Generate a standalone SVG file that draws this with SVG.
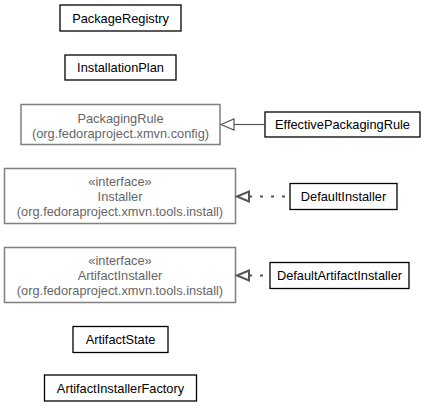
<svg xmlns="http://www.w3.org/2000/svg" width="428" height="407" viewBox="0 0 428 407">
<style>
text{font-family:"Liberation Sans",Arial,Helvetica,sans-serif;font-size:12.8px;text-anchor:middle}
.b rect{fill:#fff;stroke:#000;stroke-width:1.3}
.g rect{fill:#fff;stroke:#7f7f7f;stroke-width:1.5}
.b text{fill:#000}
.g text{fill:#666}
.edge{fill:none;stroke:#555}
</style>
<rect width="428" height="407" fill="#fff"/>
<g id="PackageRegistry" class="b"><rect x="60" y="5" width="121" height="26"/><text x="120.5" y="22.5">PackageRegistry</text></g>
<g id="InstallationPlan" class="b"><rect x="65" y="55" width="111" height="25"/><text x="120.5" y="72">InstallationPlan</text></g>
<g id="PackagingRule" class="g"><rect x="21" y="104.5" width="199" height="40"/><text x="120.5" y="122.5">PackagingRule</text><text x="120.5" y="137.5">(org.fedoraproject.xmvn.config)</text></g>
<g id="EffectivePackagingRule" class="b"><rect x="265" y="112" width="155" height="25"/><text x="342.5" y="129">EffectivePackagingRule</text></g>
<g id="Installer" class="g"><rect x="4.5" y="168.5" width="231" height="55"/><text x="120" y="185.8">«interface»</text><text x="120" y="200.8">Installer</text><text x="120" y="215.8">(org.fedoraproject.xmvn.tools.install)</text></g>
<g id="DefaultInstaller" class="b"><rect x="290" y="183.5" width="107" height="26"/><text x="343.5" y="201">DefaultInstaller</text></g>
<g id="ArtifactInstaller" class="g"><rect x="4.5" y="247.5" width="231" height="55"/><text x="120" y="264.8">«interface»</text><text x="120" y="279.8">ArtifactInstaller</text><text x="120" y="294.8">(org.fedoraproject.xmvn.tools.install)</text></g>
<g id="DefaultArtifactInstaller" class="b"><rect x="270" y="262.5" width="139" height="26"/><text x="339.5" y="280">DefaultArtifactInstaller</text></g>
<g id="ArtifactState" class="b"><rect x="73" y="326.5" width="95" height="26"/><text x="120.5" y="344">ArtifactState</text></g>
<g id="ArtifactInstallerFactory" class="b"><rect x="44.5" y="375" width="152" height="26"/><text x="120.5" y="392.6">ArtifactInstallerFactory</text></g>
<g id="connectors">
<line class="edge" x1="234" y1="124.5" x2="265" y2="124.5" stroke-width="1.2"/>
<path class="edge" d="M221,124.5 L234,119 L234,130 Z" stroke-width="1.2"/>
<line class="edge" x1="249" y1="196.5" x2="290" y2="196.5" stroke-width="2" stroke-dasharray="3,8"/>
<path class="edge" d="M237,196.5 L249,191.5 L249,201.5 Z" stroke-width="2"/>
<line class="edge" x1="249" y1="275.5" x2="270" y2="275.5" stroke-width="2" stroke-dasharray="3,8"/>
<path class="edge" d="M237,275.5 L249,270.5 L249,280.5 Z" stroke-width="2"/>
</g>
</svg>
